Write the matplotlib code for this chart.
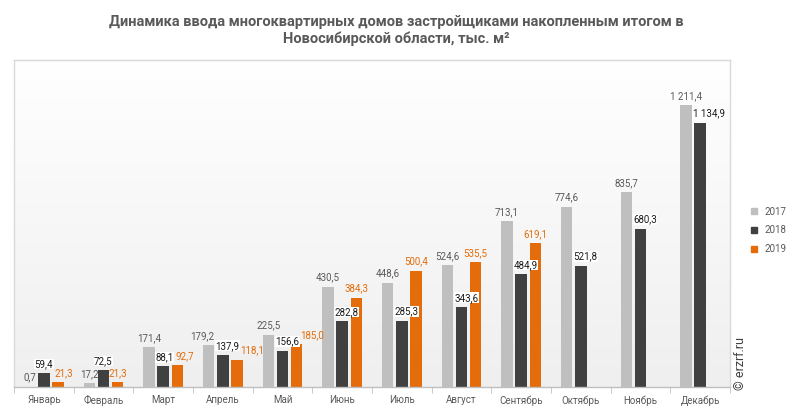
import numpy as np
import matplotlib
matplotlib.use("Agg")
import matplotlib.pyplot as plt
from matplotlib.lines import Line2D
from matplotlib.transforms import offset_copy

months = ["Январь", "Февраль", "Март", "Апрель", "Май", "Июнь", "Июль",
          "Август", "Сентябрь", "Октябрь", "Ноябрь", "Декабрь"]
years = ["2017", "2018", "2019"]
v2017 = [0.7, 17.2, 171.4, 179.2, 225.5, 430.5, 448.6, 524.6, 713.1, 774.6, 835.7, 1211.4]
v2018 = [59.4, 72.5, 88.1, 137.9, 156.6, 282.8, 285.3, 343.6, 484.9, 521.8, 680.3, 1134.9]
v2019 = [21.3, 21.3, 92.7, 118.1, 185.0, 384.3, 500.4, 535.5, 619.1]

bar_colors = ["#BFBFBF", "#404040", "#E46C0A"]
label_colors = ["#595959", "#1a1a1a", "#E46C0A"]


def fmt(v):
    s = f"{v:,.1f}"
    return s.replace(",", " ").replace(".", ",")


plt.rcParams['font.family'] = ['Roboto', 'DejaVu Sans']

fig = plt.figure(figsize=(7.93, 4.15), dpi=100)
ax = fig.add_axes([14 / 793, 28 / 415, 716 / 793, 327 / 415])

# soft vertical gradient in the plot area
grad = np.linspace(0.0, 1.0, 256).reshape(-1, 1)
cmap = matplotlib.colors.LinearSegmentedColormap.from_list("g", ["#efefef", "#ffffff"])
ax.imshow(grad, extent=[0, 1, 0, 1], transform=ax.transAxes, aspect='auto',
          cmap=cmap, origin='lower', zorder=0)

ax.set_xlim(-0.5, len(months) - 0.5)
ax.set_ylim(0, 1405)

x = np.arange(len(months))
width = 0.19
step = 0.235
series = [v2017, v2018, v2019]
labels = [[], [], []]
bars = []
for i, vals in enumerate(series):
    xs = x[:len(vals)] + (i - 1) * step
    bars.append(ax.bar(xs, vals, width=width, color=bar_colors[i], zorder=2))
    for xx, v in zip(xs, vals):
        kw = {}
        if i == 1:
            kw['bbox'] = dict(facecolor='white', edgecolor='none', pad=0.3)
        t = ax.text(xx, v, fmt(v), ha='center', va='bottom', fontsize=7,
                    color=label_colors[i], zorder=4 + i,
                    transform=offset_copy(ax.transData, fig=fig, x=0, y=3, units='points'),
                    **kw)
        labels[i].append(t)

ax.set_yticks([])
ax.set_xticks(x)
ax.set_xticklabels(months, fontsize=7, color="#595959")
ax.tick_params(axis='x', which='major', length=0, pad=6)
ax.set_xticks(np.arange(-0.5, len(months)), minor=True)
ax.tick_params(axis='x', which='minor', length=4, color="#bfbfbf", direction='out')
for s in ax.spines.values():
    s.set_color("#d9d9d9")
    s.set_linewidth(1)
ax.spines['bottom'].set_color("#bfbfbf")

# nudge labels sideways where they collide (like the source chart does)
fig.canvas.draw()
r = fig.canvas.get_renderer()


def overlap(a, b):
    return not (a.x1 <= b.x0 or b.x1 <= a.x0 or a.y1 <= b.y0 or b.y1 <= a.y0)


def shift(t, dx):
    t.set_transform(offset_copy(t.get_transform(), fig=fig, x=dx, y=0, units='dots'))


for m in range(len(months)):
    l17 = labels[0][m]
    l18 = labels[1][m]
    b17 = bars[0][m].get_window_extent(r)
    e18 = l18.get_window_extent(r).expanded(1.0, 1.0)
    if overlap(e18, b17):
        shift(l18, b17.x1 - e18.x0 + 1)
        e18 = l18.get_window_extent(r)
    e17 = l17.get_window_extent(r)
    if overlap(e17, e18):
        shift(l17, -(e17.x1 - e18.x0 + 1))
    if m < len(v2019):
        l19 = labels[2][m]
        e19 = l19.get_window_extent(r)
        if overlap(e19, e18):
            shift(l19, e18.x1 - e19.x0 + 1)

fig.suptitle("Динамика ввода многоквартирных домов застройщиками накопленным итогом в\n"
             "Новосибирской области, тыс. м²", y=0.965, fontsize=10.5, fontweight='bold',
             color="#595959", linespacing=1.3)

handles = [Line2D([], [], marker='s', linestyle='none', markersize=5,
                  color=c) for c in bar_colors]
fig.legend(handles, years, loc='center left', bbox_to_anchor=(740 / 793, 0.445),
           frameon=False, fontsize=7, labelcolor="#595959", handletextpad=0.1,
           labelspacing=0.9, borderaxespad=0)

fig.text(741 / 793, 0.125, "© erzrf.ru", rotation=90, fontsize=9, color="#404040",
         ha='center', va='center')

fig.savefig("out.png", dpi=100)
